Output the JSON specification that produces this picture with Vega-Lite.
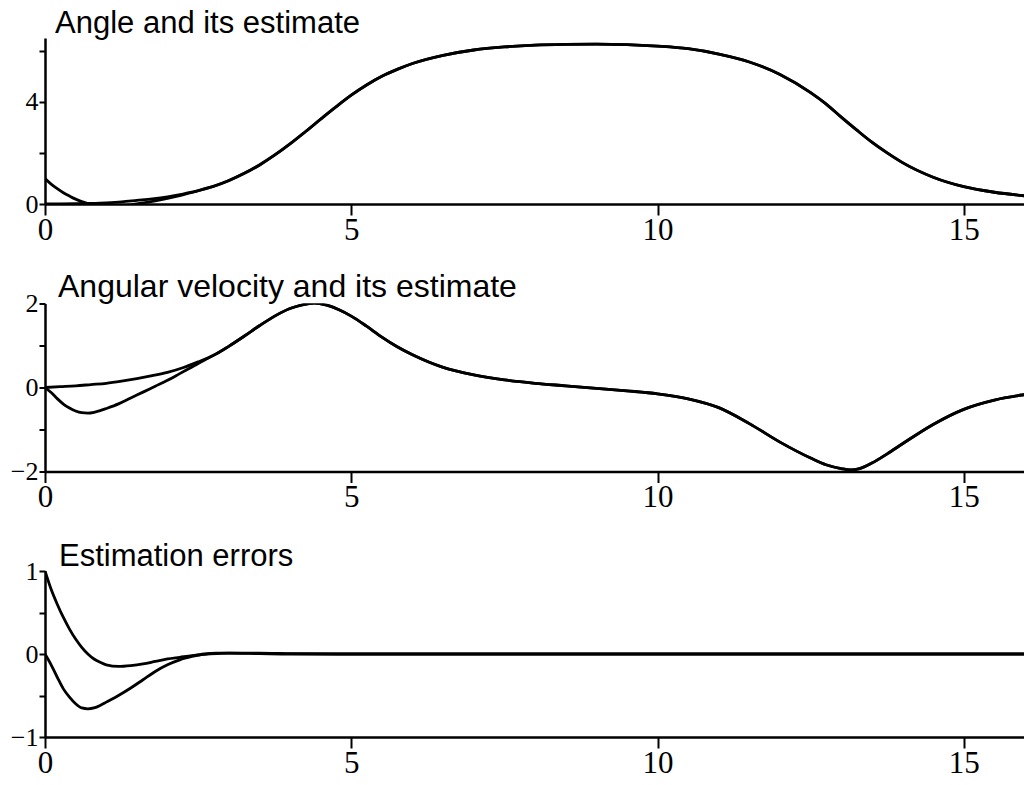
{
  "$schema": "https://vega.github.io/schema/vega-lite/v6.json",
  "padding": {"left": 10, "top": 8, "right": 0, "bottom": 0},
  "background": "white",
  "spacing": 99.5,
  "bounds": "flush",
  "config": {
    "view": {"stroke": null},
    "axis": {"grid": false, "domainColor": "black", "tickColor": "black", "labelColor": "black", "domainWidth": 2.5, "tickWidth": 2, "labelFont": "Liberation Serif", "title": null, "labelOverlap": false, "labelFlush": false, "labelBound": false, "format": "~g"},
    "title": {"anchor": "start", "frame": "group", "font": "Liberation Sans", "fontSize": 31, "fontWeight": "normal", "color": "black", "baseline": "alphabetic"}
  },
  "datasets": {
    "angle": [
      {"t": 0, "v": 0, "s": "true"}, {"t": 0.25, "v": 0.003, "s": "true"}, {"t": 0.5, "v": 0.01, "s": "true"}, {"t": 0.75, "v": 0.024, "s": "true"}, {"t": 1, "v": 0.045, "s": "true"}, {"t": 1.25, "v": 0.08, "s": "true"}, {"t": 1.5, "v": 0.14, "s": "true"}, {"t": 1.75, "v": 0.2, "s": "true"}, {"t": 2, "v": 0.28, "s": "true"}, {"t": 2.25, "v": 0.39, "s": "true"}, {"t": 2.5, "v": 0.52, "s": "true"}, {"t": 2.75, "v": 0.69, "s": "true"}, {"t": 3, "v": 0.91, "s": "true"}, {"t": 3.25, "v": 1.19, "s": "true"}, {"t": 3.5, "v": 1.52, "s": "true"}, {"t": 3.75, "v": 1.91, "s": "true"}, {"t": 4, "v": 2.35, "s": "true"}, {"t": 4.25, "v": 2.83, "s": "true"}, {"t": 4.5, "v": 3.32, "s": "true"}, {"t": 4.75, "v": 3.8, "s": "true"}, {"t": 5, "v": 4.26, "s": "true"}, {"t": 5.25, "v": 4.66, "s": "true"}, {"t": 5.5, "v": 5.0, "s": "true"}, {"t": 5.75, "v": 5.27, "s": "true"}, {"t": 6, "v": 5.5, "s": "true"}, {"t": 6.5, "v": 5.82, "s": "true"}, {"t": 7, "v": 6.03, "s": "true"}, {"t": 7.5, "v": 6.15, "s": "true"}, {"t": 8, "v": 6.22, "s": "true"}, {"t": 8.5, "v": 6.25, "s": "true"}, {"t": 9, "v": 6.26, "s": "true"}, {"t": 9.5, "v": 6.24, "s": "true"}, {"t": 10, "v": 6.18, "s": "true"}, {"t": 10.5, "v": 6.08, "s": "true"}, {"t": 11, "v": 5.87, "s": "true"}, {"t": 11.5, "v": 5.56, "s": "true"}, {"t": 12, "v": 5.07, "s": "true"}, {"t": 12.5, "v": 4.36, "s": "true"}, {"t": 12.75, "v": 3.92, "s": "true"}, {"t": 13, "v": 3.4, "s": "true"}, {"t": 13.25, "v": 2.9, "s": "true"}, {"t": 13.5, "v": 2.42, "s": "true"}, {"t": 13.75, "v": 2.0, "s": "true"}, {"t": 14, "v": 1.62, "s": "true"}, {"t": 14.5, "v": 1.05, "s": "true"}, {"t": 15, "v": 0.68, "s": "true"}, {"t": 15.5, "v": 0.46, "s": "true"}, {"t": 16, "v": 0.32, "s": "true"},
      {"t": 0, "v": 1.0, "s": "est"}, {"t": 0.1, "v": 0.78, "s": "est"}, {"t": 0.2, "v": 0.6, "s": "est"}, {"t": 0.3, "v": 0.44, "s": "est"}, {"t": 0.4, "v": 0.31, "s": "est"}, {"t": 0.5, "v": 0.19, "s": "est"}, {"t": 0.6, "v": 0.095, "s": "est"}, {"t": 0.7, "v": 0.02, "s": "est"}, {"t": 0.8, "v": -0.03, "s": "est"}, {"t": 0.9, "v": -0.06, "s": "est"}, {"t": 1.0, "v": -0.08, "s": "est"}, {"t": 1.2, "v": -0.08, "s": "est"}, {"t": 1.4, "v": -0.03, "s": "est"}, {"t": 1.6, "v": 0.045, "s": "est"}, {"t": 1.8, "v": 0.125, "s": "est"}, {"t": 2.0, "v": 0.22, "s": "est"}, {"t": 2.2, "v": 0.33, "s": "est"}, {"t": 2.4, "v": 0.45, "s": "est"}, {"t": 2.6, "v": 0.59, "s": "est"}, {"t": 2.8, "v": 0.735, "s": "est"}, {"t": 3.0, "v": 0.92, "s": "est"}, {"t": 3.25, "v": 1.2, "s": "est"}, {"t": 3.5, "v": 1.53, "s": "est"}, {"t": 3.75, "v": 1.92, "s": "est"}, {"t": 4, "v": 2.355, "s": "est"}, {"t": 4.25, "v": 2.83, "s": "est"}, {"t": 4.5, "v": 3.32, "s": "est"}, {"t": 4.75, "v": 3.8, "s": "est"}, {"t": 5, "v": 4.26, "s": "est"}, {"t": 5.25, "v": 4.66, "s": "est"}, {"t": 5.5, "v": 5.0, "s": "est"}, {"t": 5.75, "v": 5.27, "s": "est"}, {"t": 6, "v": 5.5, "s": "est"}, {"t": 6.5, "v": 5.82, "s": "est"}, {"t": 7, "v": 6.03, "s": "est"}, {"t": 7.5, "v": 6.15, "s": "est"}, {"t": 8, "v": 6.22, "s": "est"}, {"t": 8.5, "v": 6.25, "s": "est"}, {"t": 9, "v": 6.26, "s": "est"}, {"t": 9.5, "v": 6.24, "s": "est"}, {"t": 10, "v": 6.18, "s": "est"}, {"t": 10.5, "v": 6.08, "s": "est"}, {"t": 11, "v": 5.87, "s": "est"}, {"t": 11.5, "v": 5.56, "s": "est"}, {"t": 12, "v": 5.07, "s": "est"}, {"t": 12.5, "v": 4.36, "s": "est"}, {"t": 12.75, "v": 3.92, "s": "est"}, {"t": 13, "v": 3.4, "s": "est"}, {"t": 13.25, "v": 2.9, "s": "est"}, {"t": 13.5, "v": 2.42, "s": "est"}, {"t": 13.75, "v": 2.0, "s": "est"}, {"t": 14, "v": 1.62, "s": "est"}, {"t": 14.5, "v": 1.05, "s": "est"}, {"t": 15, "v": 0.68, "s": "est"}, {"t": 15.5, "v": 0.46, "s": "est"}, {"t": 16, "v": 0.32, "s": "est"}
    ],
    "velocity": [
      {"t": 0, "v": 0, "s": "true"}, {"t": 0.25, "v": 0.02, "s": "true"}, {"t": 0.5, "v": 0.04, "s": "true"}, {"t": 0.75, "v": 0.07, "s": "true"}, {"t": 1, "v": 0.1, "s": "true"}, {"t": 1.25, "v": 0.15, "s": "true"}, {"t": 1.5, "v": 0.21, "s": "true"}, {"t": 1.75, "v": 0.28, "s": "true"}, {"t": 2, "v": 0.36, "s": "true"}, {"t": 2.25, "v": 0.47, "s": "true"}, {"t": 2.5, "v": 0.61, "s": "true"}, {"t": 2.75, "v": 0.77, "s": "true"}, {"t": 3, "v": 0.98, "s": "true"}, {"t": 3.25, "v": 1.22, "s": "true"}, {"t": 3.5, "v": 1.47, "s": "true"}, {"t": 3.75, "v": 1.7, "s": "true"}, {"t": 4, "v": 1.88, "s": "true"}, {"t": 4.2, "v": 1.97, "s": "true"}, {"t": 4.4, "v": 2.01, "s": "true"}, {"t": 4.6, "v": 1.96, "s": "true"}, {"t": 4.8, "v": 1.85, "s": "true"}, {"t": 5, "v": 1.7, "s": "true"}, {"t": 5.25, "v": 1.46, "s": "true"}, {"t": 5.5, "v": 1.2, "s": "true"}, {"t": 5.75, "v": 0.97, "s": "true"}, {"t": 6, "v": 0.78, "s": "true"}, {"t": 6.5, "v": 0.48, "s": "true"}, {"t": 7, "v": 0.3, "s": "true"}, {"t": 7.5, "v": 0.18, "s": "true"}, {"t": 8, "v": 0.1, "s": "true"}, {"t": 8.5, "v": 0.04, "s": "true"}, {"t": 9, "v": -0.02, "s": "true"}, {"t": 9.5, "v": -0.08, "s": "true"}, {"t": 10, "v": -0.15, "s": "true"}, {"t": 10.5, "v": -0.27, "s": "true"}, {"t": 11, "v": -0.48, "s": "true"}, {"t": 11.5, "v": -0.86, "s": "true"}, {"t": 12, "v": -1.3, "s": "true"}, {"t": 12.5, "v": -1.68, "s": "true"}, {"t": 12.75, "v": -1.84, "s": "true"}, {"t": 13, "v": -1.93, "s": "true"}, {"t": 13.15, "v": -1.96, "s": "true"}, {"t": 13.3, "v": -1.93, "s": "true"}, {"t": 13.5, "v": -1.8, "s": "true"}, {"t": 13.75, "v": -1.58, "s": "true"}, {"t": 14, "v": -1.34, "s": "true"}, {"t": 14.5, "v": -0.88, "s": "true"}, {"t": 15, "v": -0.52, "s": "true"}, {"t": 15.5, "v": -0.3, "s": "true"}, {"t": 16, "v": -0.17, "s": "true"},
      {"t": 0, "v": 0, "s": "est"}, {"t": 0.1, "v": -0.12, "s": "est"}, {"t": 0.2, "v": -0.265, "s": "est"}, {"t": 0.3, "v": -0.395, "s": "est"}, {"t": 0.4, "v": -0.49, "s": "est"}, {"t": 0.5, "v": -0.56, "s": "est"}, {"t": 0.6, "v": -0.6, "s": "est"}, {"t": 0.7, "v": -0.61, "s": "est"}, {"t": 0.8, "v": -0.59, "s": "est"}, {"t": 0.9, "v": -0.55, "s": "est"}, {"t": 1.0, "v": -0.5, "s": "est"}, {"t": 1.2, "v": -0.39, "s": "est"}, {"t": 1.4, "v": -0.25, "s": "est"}, {"t": 1.6, "v": -0.11, "s": "est"}, {"t": 1.8, "v": 0.03, "s": "est"}, {"t": 2.0, "v": 0.17, "s": "est"}, {"t": 2.2, "v": 0.33, "s": "est"}, {"t": 2.4, "v": 0.49, "s": "est"}, {"t": 2.6, "v": 0.65, "s": "est"}, {"t": 2.8, "v": 0.8, "s": "est"}, {"t": 3.0, "v": 0.98, "s": "est"}, {"t": 3.25, "v": 1.22, "s": "est"}, {"t": 3.5, "v": 1.47, "s": "est"}, {"t": 3.75, "v": 1.7, "s": "est"}, {"t": 4, "v": 1.88, "s": "est"}, {"t": 4.2, "v": 1.97, "s": "est"}, {"t": 4.4, "v": 2.01, "s": "est"}, {"t": 4.6, "v": 1.96, "s": "est"}, {"t": 4.8, "v": 1.85, "s": "est"}, {"t": 5, "v": 1.7, "s": "est"}, {"t": 5.25, "v": 1.46, "s": "est"}, {"t": 5.5, "v": 1.2, "s": "est"}, {"t": 5.75, "v": 0.97, "s": "est"}, {"t": 6, "v": 0.78, "s": "est"}, {"t": 6.5, "v": 0.48, "s": "est"}, {"t": 7, "v": 0.3, "s": "est"}, {"t": 7.5, "v": 0.18, "s": "est"}, {"t": 8, "v": 0.1, "s": "est"}, {"t": 8.5, "v": 0.04, "s": "est"}, {"t": 9, "v": -0.02, "s": "est"}, {"t": 9.5, "v": -0.08, "s": "est"}, {"t": 10, "v": -0.15, "s": "est"}, {"t": 10.5, "v": -0.27, "s": "est"}, {"t": 11, "v": -0.48, "s": "est"}, {"t": 11.5, "v": -0.86, "s": "est"}, {"t": 12, "v": -1.3, "s": "est"}, {"t": 12.5, "v": -1.68, "s": "est"}, {"t": 12.75, "v": -1.84, "s": "est"}, {"t": 13, "v": -1.93, "s": "est"}, {"t": 13.15, "v": -1.96, "s": "est"}, {"t": 13.3, "v": -1.93, "s": "est"}, {"t": 13.5, "v": -1.8, "s": "est"}, {"t": 13.75, "v": -1.58, "s": "est"}, {"t": 14, "v": -1.34, "s": "est"}, {"t": 14.5, "v": -0.88, "s": "est"}, {"t": 15, "v": -0.52, "s": "est"}, {"t": 15.5, "v": -0.3, "s": "est"}, {"t": 16, "v": -0.17, "s": "est"}
    ],
    "errors": [
      {"t": 0, "v": 1.0, "s": "e1"}, {"t": 0.1, "v": 0.78, "s": "e1"}, {"t": 0.2, "v": 0.6, "s": "e1"}, {"t": 0.3, "v": 0.44, "s": "e1"}, {"t": 0.4, "v": 0.3, "s": "e1"}, {"t": 0.5, "v": 0.18, "s": "e1"}, {"t": 0.6, "v": 0.08, "s": "e1"}, {"t": 0.7, "v": 0.0, "s": "e1"}, {"t": 0.8, "v": -0.06, "s": "e1"}, {"t": 0.9, "v": -0.1, "s": "e1"}, {"t": 1.0, "v": -0.13, "s": "e1"}, {"t": 1.2, "v": -0.15, "s": "e1"}, {"t": 1.4, "v": -0.14, "s": "e1"}, {"t": 1.6, "v": -0.12, "s": "e1"}, {"t": 1.8, "v": -0.09, "s": "e1"}, {"t": 2.0, "v": -0.06, "s": "e1"}, {"t": 2.2, "v": -0.04, "s": "e1"}, {"t": 2.4, "v": -0.02, "s": "e1"}, {"t": 2.6, "v": -0.005, "s": "e1"}, {"t": 2.8, "v": 0.005, "s": "e1"}, {"t": 3.0, "v": 0.01, "s": "e1"}, {"t": 3.5, "v": 0.01, "s": "e1"}, {"t": 4, "v": 0.005, "s": "e1"}, {"t": 5, "v": 0, "s": "e1"}, {"t": 6, "v": 0, "s": "e1"}, {"t": 8, "v": 0, "s": "e1"}, {"t": 10, "v": 0, "s": "e1"}, {"t": 12, "v": 0, "s": "e1"}, {"t": 14, "v": 0, "s": "e1"}, {"t": 16, "v": 0, "s": "e1"},
      {"t": 0, "v": 0, "s": "e2"}, {"t": 0.1, "v": -0.13, "s": "e2"}, {"t": 0.2, "v": -0.28, "s": "e2"}, {"t": 0.3, "v": -0.42, "s": "e2"}, {"t": 0.4, "v": -0.52, "s": "e2"}, {"t": 0.5, "v": -0.6, "s": "e2"}, {"t": 0.6, "v": -0.65, "s": "e2"}, {"t": 0.7, "v": -0.66, "s": "e2"}, {"t": 0.8, "v": -0.65, "s": "e2"}, {"t": 0.9, "v": -0.62, "s": "e2"}, {"t": 1.0, "v": -0.58, "s": "e2"}, {"t": 1.2, "v": -0.5, "s": "e2"}, {"t": 1.4, "v": -0.41, "s": "e2"}, {"t": 1.6, "v": -0.31, "s": "e2"}, {"t": 1.8, "v": -0.21, "s": "e2"}, {"t": 2.0, "v": -0.13, "s": "e2"}, {"t": 2.2, "v": -0.07, "s": "e2"}, {"t": 2.4, "v": -0.03, "s": "e2"}, {"t": 2.6, "v": 0.0, "s": "e2"}, {"t": 2.8, "v": 0.01, "s": "e2"}, {"t": 3.0, "v": 0.01, "s": "e2"}, {"t": 3.5, "v": 0.005, "s": "e2"}, {"t": 4, "v": 0, "s": "e2"}, {"t": 5, "v": 0, "s": "e2"}, {"t": 6, "v": 0, "s": "e2"}, {"t": 8, "v": 0, "s": "e2"}, {"t": 10, "v": 0, "s": "e2"}, {"t": 12, "v": 0, "s": "e2"}, {"t": 14, "v": 0, "s": "e2"}, {"t": 16, "v": 0, "s": "e2"}
    ]
  },
  "vconcat": [
    {
      "width": 980, "height": 166,
      "title": {"text": "Angle and its estimate", "dx": 10, "offset": -2.5},
      "data": {"name": "angle"},
      "mark": {"type": "line", "interpolate": "monotone", "color": "black", "strokeWidth": 2.8, "clip": true},
      "encoding": {
        "x": {"field": "t", "type": "quantitative", "scale": {"domain": [0, 16], "nice": false, "zero": false}, "axis": {"values": [0, 5, 10, 15], "tickSize": 11, "labelFontSize": 31, "labelPadding": 0}},
        "y": {"field": "v", "type": "quantitative", "scale": {"domain": [0, 6.5], "nice": false}, "axis": {"values": [0, 2, 4, 6], "labelExpr": "datum.value == 0 || datum.value == 4 ? datum.label : ''", "tickSize": 6, "labelFontSize": 26, "labelPadding": 1}},
        "detail": {"field": "s"}
      }
    },
    {
      "width": 980, "height": 168,
      "title": {"text": "Angular velocity and its estimate", "dx": 13, "offset": -13.5, "fontSize": 32},
      "data": {"name": "velocity"},
      "mark": {"type": "line", "interpolate": "monotone", "color": "black", "strokeWidth": 2.8, "clip": true},
      "encoding": {
        "x": {"field": "t", "type": "quantitative", "scale": {"domain": [0, 16], "nice": false, "zero": false}, "axis": {"values": [0, 5, 10, 15], "tickSize": 11, "labelFontSize": 31, "labelPadding": 0}},
        "y": {"field": "v", "type": "quantitative", "scale": {"domain": [-2, 2], "nice": false}, "axis": {"values": [-2, -1, 0, 1, 2], "labelExpr": "datum.value == -2 || datum.value == 0 || datum.value == 2 ? datum.label : ''", "tickSize": 6, "labelFontSize": 26, "labelPadding": 1}},
        "detail": {"field": "s"}
      }
    },
    {
      "width": 980, "height": 166,
      "title": {"text": "Estimation errors", "dx": 14, "offset": -15},
      "data": {"name": "errors"},
      "mark": {"type": "line", "interpolate": "monotone", "color": "black", "strokeWidth": 2.8, "clip": true},
      "encoding": {
        "x": {"field": "t", "type": "quantitative", "scale": {"domain": [0, 16], "nice": false, "zero": false}, "axis": {"values": [0, 5, 10, 15], "tickSize": 11, "labelFontSize": 31, "labelPadding": 0}},
        "y": {"field": "v", "type": "quantitative", "scale": {"domain": [-1, 1], "nice": false}, "axis": {"values": [-1, -0.5, 0, 0.5, 1], "labelExpr": "datum.value == -1 || datum.value == 0 || datum.value == 1 ? datum.label : ''", "tickSize": 6, "labelFontSize": 26, "labelPadding": 1}},
        "detail": {"field": "s"}
      }
    }
  ]
}
